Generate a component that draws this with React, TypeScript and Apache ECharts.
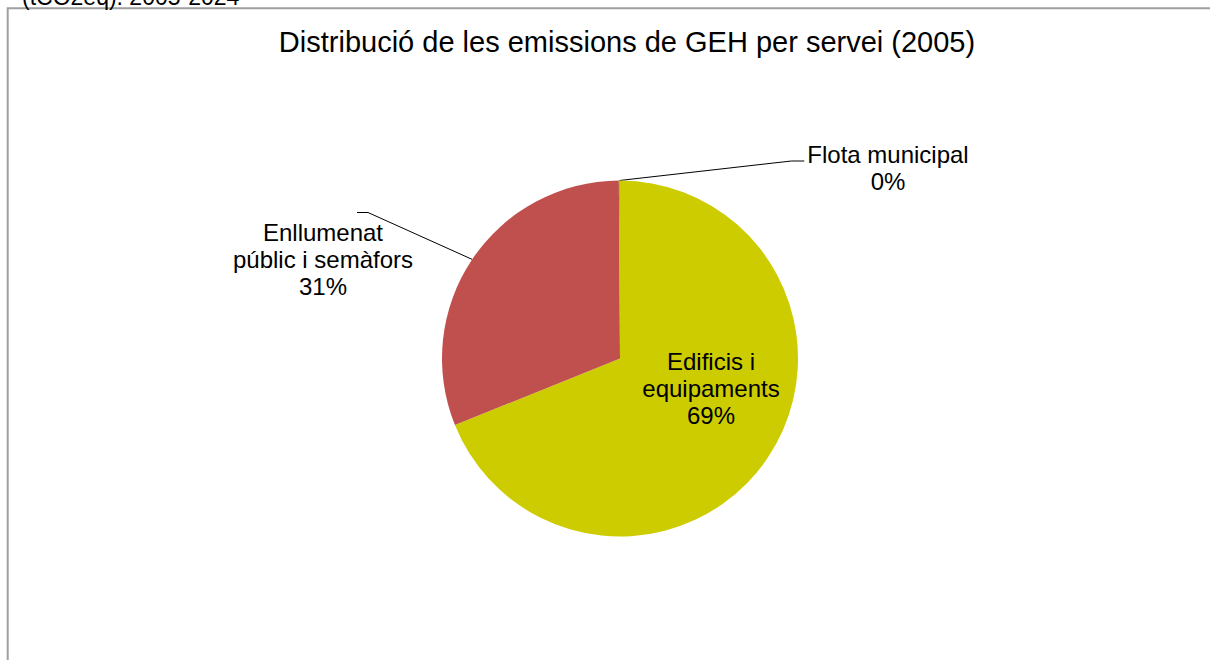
import { useEffect, useRef } from 'react';
import * as echarts from 'echarts';

const TITLE = 'Distribució de les emissions de GEH per servei (2005)';
const CUT_HEADER = '(tCO2eq). 2005-2024';
const categories = ['Edificis i\nequipaments', 'Enllumenat\npúblic i semàfors', 'Flota municipal'];
const shares = [68.9, 31.0, 0.1];
const colors = ['#CCCC00', '#C0504D', '#9BBB59'];
const labelInside = [true, false, false];

// label centres (layout only)
const LABEL_POS: number[][] = [
  [711, 388],
  [323, 259],
  [888, 168],
];

const FONT = '"Liberation Sans", Arial, sans-serif';

export default function App() {
  const ref = useRef<HTMLDivElement>(null);
  useEffect(() => {
    if (!ref.current) return;
    const chart = echarts.init(ref.current, null, { renderer: 'svg' });
    const data = categories.map((name, i) => ({
      name,
      value: shares[i],
      itemStyle: { color: colors[i] },
      label: { position: labelInside[i] ? 'inside' : 'outside' },
      labelLine: { show: !labelInside[i] },
    }));
    chart.setOption({
      animation: false,
      backgroundColor: '#ffffff',
      title: {
        text: TITLE,
        left: 627,
        textAlign: 'center',
        top: 27,
        padding: 0,
        textStyle: { fontFamily: FONT, fontSize: 29, fontWeight: 'normal', color: '#000' },
      },
      graphic: [
        {
          type: 'polyline',
          shape: { points: [[7.7, 660], [7.7, 8.3], [1210, 8.3]] },
          style: { stroke: '#A0A0A0', lineWidth: 2, fill: 'none' },
          silent: true,
        },
        {
          type: 'text',
          x: 22,
          y: 8,
          style: {
            text: CUT_HEADER,
            fill: '#000',
            font: `23px ${FONT}`,
            verticalAlign: 'bottom',
          },
          silent: true,
        },
      ],
      series: [
        {
          type: 'pie',
          center: [620, 358.5],
          radius: 178,
          startAngle: 90,
          clockwise: true,
          avoidLabelOverlap: false,
          percentPrecision: 0,
          silent: true,
          data,
          label: {
            formatter: '{b}\n{d}%',
            fontFamily: FONT,
            fontSize: 24,
            lineHeight: 27,
            color: '#000',
            align: 'center',
          },
          labelLine: {
            lineStyle: { color: '#000', width: 1 },
          },
          labelLayout: (params: any) => {
            const i = params.dataIndex;
            const [x, y] = LABEL_POS[i];
            const w = params.labelRect.width;
            const h = params.labelRect.height;
            const res: any = { x, y, align: 'center', verticalAlign: 'middle' };
            const anchor = params.labelLinePoints ? params.labelLinePoints[0] : null;
            if (anchor && i === 1) {
              const top = y - h / 2;
              res.labelLinePoints = [anchor, [x + 45, top - 6], [x + 34, top - 6]];
            }
            if (anchor && i === 2) {
              const left = x - w / 2;
              const top = y - h / 2;
              res.labelLinePoints = [anchor, [left - 16, top + 20], [left - 3, top + 20]];
            }
            return res;
          },
        },
      ],
    });
    return () => chart.dispose();
  }, []);
  return (
    <div
      ref={ref}
      style={{ position: 'fixed', left: 0, top: 0, width: 1210, height: 660, background: '#fff' }}
    />
  );
}
